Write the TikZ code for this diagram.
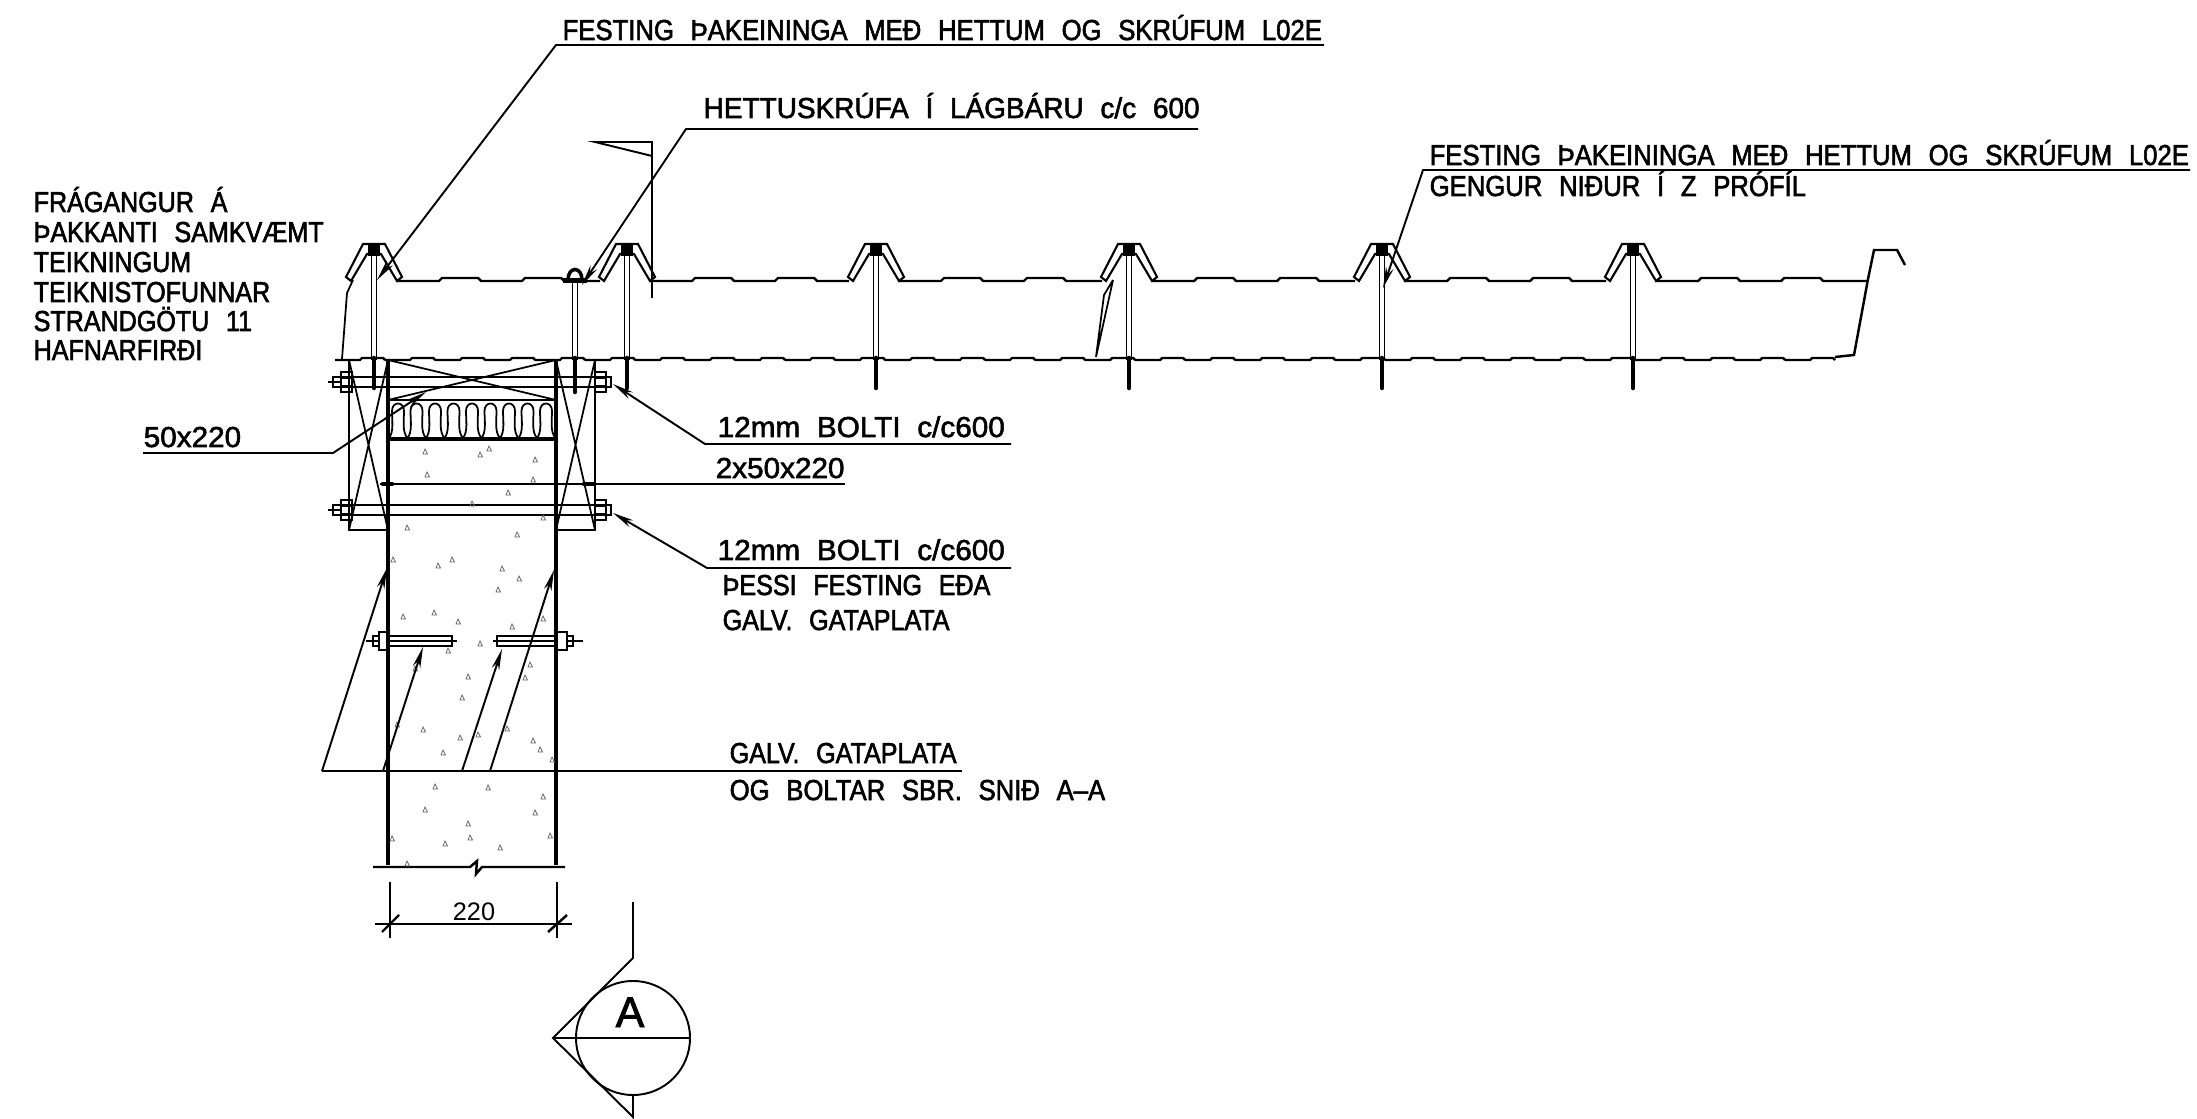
\documentclass[tikz,border=0pt]{standalone}
\usepackage{fontspec}
\usetikzlibrary{arrows.meta,positioning}
\newfontfamily\cadfamily[FakeBold=2,FakeStretch=0.89]{Liberation Sans}
\newfontfamily\cadleftfamily[FakeBold=2,FakeStretch=0.87]{Liberation Sans}
\newfontfamily\cadmidfamily[FakeBold=2,FakeStretch=0.97]{Liberation Sans}
\newfontfamily\cadwidefamily[FakeBold=2,FakeStretch=1.03]{Liberation Sans}
\newfontfamily\markfamily[FakeBold=2]{Liberation Sans}
\newfontfamily\dimfamily{Liberation Sans}
\newcommand{\cadsize}{\fontsize{8.2}{9}\selectfont\spaceskip=0.58em\relax}
% one rib of the roof panel with its screw
\newcommand{\rib}[1]{%
  \draw[ribline] (#1-28,277) -- (#1-11,244) -- (#1+11,244) -- (#1+28,277) -- (#1+23,281)
    -- (#1+7,254) -- (#1-7,254) -- (#1-23,281) -- cycle;
  \fill (#1-6,245) rectangle (#1+6,256);
  \draw[part] (#1-2.5,256) -- (#1-2.5,360) (#1+2.5,256) -- (#1+2.5,360);
  \draw[thread] (#1,358) -- (#1,388);
}
% flat part of the panel after a rib
\newcommand{\panel}[2]{%
  \draw[panelline] (#1+23,281) -- (#1+65,281) -- (#1+68,278) -- (#1+104,278) -- (#1+107,281)
    -- (#1+148,281) -- (#1+151,278) -- (#1+187,278) -- (#1+190,281) -- (#2,281);
}
% long bolt through the boards
\newcommand{\longbolt}[1]{%
  \draw[part] (341,#1-5) -- (606,#1-5) (341,#1+5) -- (606,#1+5);
  \draw[part] (328,#1) -- (341,#1);
  \draw[part] (333,#1-5) rectangle (341,#1+5);
  \draw[part] (341,#1-10) rectangle (352,#1+10) (341,#1-4) -- (352,#1-4) (341,#1+4) -- (352,#1+4);
  \draw[part] (595,#1-10) rectangle (606,#1+10) (595,#1-4) -- (606,#1-4) (595,#1+4) -- (606,#1+4);
  \draw[part] (606,#1-5) rectangle (611,#1+5);
}
\begin{document}
\begin{tikzpicture}[
  x=0.01cm, y=-0.01cm,
  part/.style={line width=0.5pt},
  ribline/.style={line width=0.6pt},
  panelline/.style={line width=0.7pt},
  thread/.style={line width=1.3pt, line cap=round},
  wall/.style={line width=1.1pt},
  leader/.style={line width=0.55pt},
  tipped/.style={leader, -{Stealth[length=6pt,width=2.2pt]}},
  speck/.style={line width=0.2pt, black!60},
  cad/.style={anchor=base west, inner sep=0pt, font=\cadfamily\cadsize},
  cadleft/.style={anchor=base west, inner sep=0pt, font=\cadleftfamily\cadsize},
  cadmid/.style={anchor=base west, inner sep=0pt, font=\cadmidfamily\cadsize},
  cadwide/.style={anchor=base west, inner sep=0pt, font=\cadwidefamily\cadsize}
]
\useasboundingbox (0,0) rectangle (2197,1119);

% panel
\foreach \r in {374,627,876,1129,1382,1633} {\rib{\r}}
\panel{374}{600}
\panel{627}{849}
\panel{876}{1102}
\panel{1129}{1355}
\panel{1382}{1606}
\panel{1633}{1868}
\foreach \x in {335,385,...,1785} {
  \draw[panelline] (\x,360) -- (\x+25,360) -- (\x+27,358) -- (\x+48,358) -- (\x+50,360);
}
\draw[panelline] (1835,357) -- (1854,355) -- (1868,279) -- (1874,250) -- (1897,250) -- (1905,265);
\draw[part] (353,280) -- (347,293) -- (342,359);
\draw[part] (1096,357) -- (1104,295) -- (1113,280) (1096,357) -- (1113,280);

% mid screw
\draw[part] (572.5,282) -- (572.5,360) (577.5,282) -- (577.5,360);
\draw[thread] (575,358) -- (575,392);
\draw[line width=1pt] (568,280) .. controls (568,266) and (582,266) .. (582,280);
\fill (563,278) rectangle (587,283);

% flag
\coordinate (flagtip) at (595,142);
\coordinate (flagtop) at (652,142);
\coordinate (flagend) at (652,156);
\coordinate (flagfoot) at (652,298);
\draw[leader] (flagfoot) -- (flagtop) -- (flagtip) -- (flagend);

% wall
\draw[wall] (388,360) -- (388,865);
\draw[wall] (556,360) -- (556,865);
\draw[part] (349,360) -- (349,530) -- (388,530) (595,360) -- (595,530) -- (556,530);
\draw[part] (349,360) -- (388,530) (388,360) -- (349,530);
\draw[part] (556,360) -- (595,530) (595,360) -- (556,530);
\draw[part] (388,360) -- (556,400) (556,360) -- (388,400);
\draw[panelline] (388,400) -- (556,400);
\draw[wall] (388,439) -- (556,439);
\foreach \x in {389,407.5,...,540} {
  \draw[part] (\x,438) .. controls (\x+5,432) and (\x+3,420) .. (\x+3,411)
    .. controls (\x+3,401) and (\x+15,401) .. (\x+15,411)
    .. controls (\x+15,420) and (\x+13,432) .. (\x+18.5,438);
}
\longbolt{382}
\longbolt{510}
\draw[part] (373,636) rectangle (379,646);
\draw[part] (379,632) rectangle (388,650);
\draw[panelline] (388,636) rectangle (452,646);
\draw[part] (366,641) -- (379,641) (388,641) -- (457,641);
\draw[panelline] (497,636) rectangle (556,646);
\draw[part] (556,632) rectangle (567,650);
\draw[part] (567,636) rectangle (573,646);
\draw[part] (493,641) -- (556,641) (567,641) -- (583,641);
\draw[panelline] (373,867) -- (470,867) -- (477,861) -- (476,874) -- (482,867) -- (565,867);
\foreach \x/\y in {425/452,480/455,489/449,535/460,427/475,533/480,508/493,472/504,543/518,407/528,517/535,
  438/566,452/560,502/569,519/579,498/590,434/613,403/617,458/622,512/627,543/619,480/644,448/651,
  415/669,468/677,462/698,530/665,525/678,423/730,507/729,478/735,460/738,443/753,533/741,540/750,
  552/760,435/787,488/788,543/797,425/810,535/813,468/824,470/838,445/844,500/848,550/836,407/864,
  393/560,397/725,392/839} {
  \draw[speck] (\x-2,\y+2) -- (\x,\y-3) -- (\x+2.5,\y+2) -- cycle;
}

% dimension
\coordinate (dimleft) at (375,924);
\coordinate (dimright) at (572,924);
\draw[part] (390,882) -- (390,938) (557,882) -- (557,938);
\draw[part] (dimleft) -- (dimright);
\draw[panelline] (382,932) -- (399,915) (548,932) -- (567,915);
\node[anchor=base, inner sep=0pt, font=\dimfamily\fontsize{7.2}{8}\selectfont] (dimtext) at (474,920) {220};

% section mark
\coordinate (secapex) at (553,1038);
\coordinate (sectop) at (633,902);
\coordinate (secup) at (633,958);
\coordinate (secdown) at (633,1117);
\node[circle, draw, line width=0.55pt, minimum size=1.14cm, inner sep=0pt] (seccircle) at (633,1038) {};
\draw[leader] (sectop) -- (secup) -- (secapex) -- (secdown) -- (633,1094);
\draw[leader] (secapex) -- (seccircle.east);
\node[anchor=base, inner sep=0pt, font=\markfamily\fontsize{12.2}{13}\selectfont] (sectext) at (630,1027) {A};

% notes
\node[cad] (topnote) at (562,40) {FESTING ÞAKEININGA MEÐ HETTUM OG SKRÚFUM L02E};
\node[cadmid] (capnote) at (703,118) {HETTUSKRÚFA Í LÁGBÁRU c/c 600};
\node[cad] (rightnote) at (1429,165) {FESTING ÞAKEININGA MEÐ HETTUM OG SKRÚFUM L02E};
\node[cad] (rightsub) at (1429,196) {GENGUR NIÐUR Í Z PRÓFÍL};
\node[cadleft] (kant1) at (33,212) {FRÁGANGUR Á};
\node[cadleft] (kant2) at (33,242) {ÞAKKANTI SAMKVÆMT};
\node[cadleft] (kant3) at (33,272) {TEIKNINGUM};
\node[cadleft] (kant4) at (33,302) {TEIKNISTOFUNNAR};
\node[cadleft] (kant5) at (33,331) {STRANDGÖTU 11};
\node[cadleft] (kant6) at (33,360) {HAFNARFIRÐI};
\node[cadwide] (boardnote) at (143,447) {50x220};
\node[cadwide] (boltnote) at (717,437) {12mm BOLTI c/c600};
\node[cadwide] (doublenote) at (715,478) {2x50x220};
\node[cadwide] (boltsub) at (717,560) {12mm BOLTI c/c600};
\node[cadleft] (fixnote) at (722,595) {ÞESSI FESTING EÐA};
\node[cadleft] (platenote) at (722,630) {GALV. GATAPLATA};
\node[cadleft] (plate) at (729,763) {GALV. GATAPLATA};
\node[cad] (platesub) at (729,800) {OG BOLTAR SBR. SNIÐ A–A};

% leaders
\coordinate (topknee) at (556,45);
\coordinate (topend) at (1324,45);
\coordinate (toptip) at (377,280);
\draw[tipped] (topend) -- (topknee) -- (toptip);
\coordinate (capknee) at (686,129);
\coordinate (capend) at (1198,129);
\coordinate (captip) at (582,285);
\draw[tipped] (capend) -- (capknee) -- (captip);
\coordinate (rightknee) at (1423,170);
\coordinate (rightend) at (2190,170);
\coordinate (righttip) at (1383,288);
\draw[tipped] (rightend) -- (rightknee) -- (righttip);
\coordinate (boardstart) at (143,453);
\coordinate (boardknee) at (333,453);
\coordinate (boardtip) at (426,392);
\draw[tipped] (boardstart) -- (boardknee) -- (boardtip);
\coordinate (boltend) at (1011,444);
\coordinate (boltknee) at (705,444);
\coordinate (bolttip) at (613,384);
\draw[tipped] (boltend) -- (boltknee) -- (bolttip);
\coordinate (doublestart) at (380,484);
\coordinate (doubleend) at (845,484);
\draw[leader] (doublestart) -- (doubleend);
\draw[thread] (383,484) -- (392,484) (584,484) -- (593,484);
\coordinate (subend) at (1011,568);
\coordinate (subknee) at (707,568);
\coordinate (subtip) at (613,513);
\draw[tipped] (subend) -- (subknee) -- (subtip);
\coordinate (plateend) at (962,771);
\coordinate (platefoot) at (322,771);
\coordinate (plateone) at (387,568);
\coordinate (platetwo) at (423,647);
\coordinate (platethree) at (502,649);
\coordinate (platefour) at (554,570);
\draw[leader] (plateend) -- (platefoot);
\draw[tipped] (platefoot) -- (plateone);
\draw[tipped] (383,771) -- (platetwo);
\draw[tipped] (462,771) -- (platethree);
\draw[tipped] (490,771) -- (platefour);
\end{tikzpicture}
\end{document}
